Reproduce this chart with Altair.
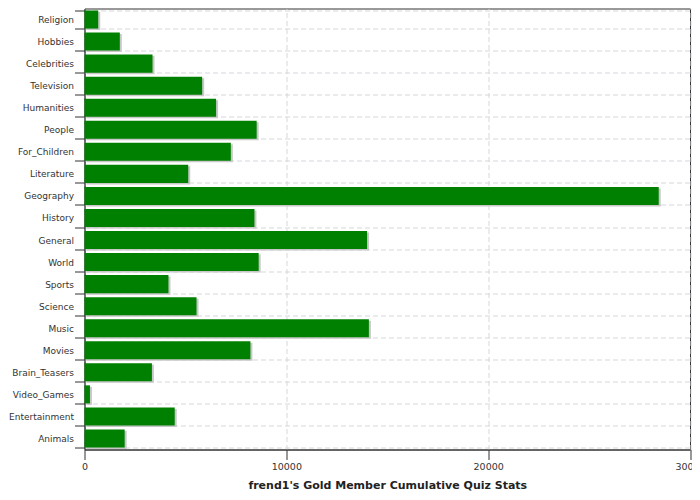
import altair as alt
import pandas as pd

categories = ["Religion", "Hobbies", "Celebrities", "Television", "Humanities", "People",
              "For_Children", "Literature", "Geography", "History", "General", "World",
              "Sports", "Science", "Music", "Movies", "Brain_Teasers", "Video_Games",
              "Entertainment", "Animals"]
values = [680, 1750, 3370, 5830, 6520, 8530, 7250, 5140, 28450, 8420, 14000, 8630,
          4160, 5550, 14090, 8220, 3340, 270, 4470, 1990]
x_ticks = [0, 10000, 20000, 30000]

df = pd.DataFrame({"category": categories, "value": values})

grid_color = "#d3d7dc"

x_enc = alt.X(
    "value:Q",
    scale=alt.Scale(domain=[0, 30000], nice=False),
    axis=alt.Axis(
        values=x_ticks, format="d", title="frend1's Gold Member Cumulative Quiz Stats",
        titleFont="DejaVu Sans", titleFontSize=11, titleFontWeight="bold", titleColor="#222",
        titlePadding=8, labelFont="DejaVu Sans", labelFontSize=9.5, labelColor="#333",
        tickSize=10, tickColor="#333", domainColor="#333", labelPadding=2,
        grid=True, gridColor=grid_color, gridDash=[5, 3], labelFlush=False,
    ),
)
y_enc = alt.Y(
    "category:N", sort=categories,
    scale=alt.Scale(paddingInner=0.18, paddingOuter=0.09),
    axis=alt.Axis(
        title=None, tickBand="extent", labelFont="DejaVu Sans", labelFontSize=9,
        labelColor="#333", tickSize=10, tickColor="#333", domainColor="#333",
        labelPadding=1, grid=True, gridColor=grid_color, gridDash=[5, 3],
    ),
)

shadow = alt.Chart(df).mark_bar(color="#c8c8c8", xOffset=2, yOffset=1.5).encode(
    x=x_enc, y=y_enc
)
bars = alt.Chart(df).mark_bar(color="#008000").encode(x=x_enc, y=y_enc)

chart = (
    alt.layer(shadow, bars)
    .properties(
        width=605.5, height=441,
        autosize=alt.AutoSizeParams(type="none"),
        padding={"left": 76.5, "top": 0.5, "right": 2, "bottom": 42},
    )
    .configure_view(stroke="#333", strokeWidth=1)
    .configure_axis(domainWidth=1)
)

chart.save("out.html", embed_options={"renderer": "svg", "actions": False})
